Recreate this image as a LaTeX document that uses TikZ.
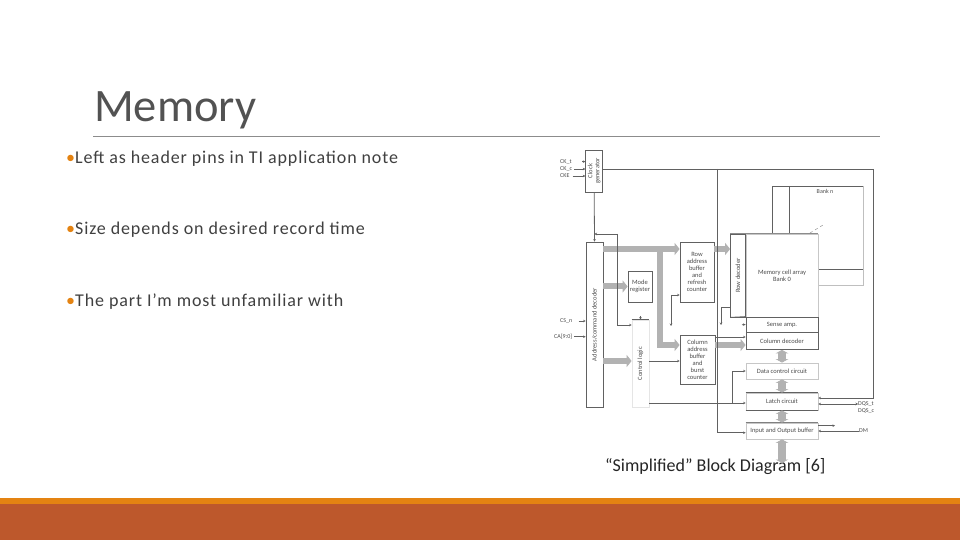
\documentclass[tikz,border=0pt]{standalone}
\usepackage{fontspec}
\setmainfont{Carlito}
\newfontfamily\bodyfont[LetterSpace=4.9]{Carlito}
\newfontfamily\titlefont{Carlito}
\usetikzlibrary{arrows.meta}
\definecolor{slidetext}{HTML}{404040}
\definecolor{slideorange}{HTML}{E48312}
\definecolor{sliderust}{HTML}{BD582C}
\tikzset{
	box/.style={draw=black!62, line width=0.8bp, inner sep=0pt, align=center, font=\fontsize{6.5bp}{7bp}\selectfont, text=black!70},
	lightbox/.style={box, draw=black!22},
	wire/.style={draw=black!62, line width=0.8bp},
	arrow/.style={wire, -{Stealth[length=2.5bp,width=2.5bp]}},
	bus/.style={draw=black!30, line width=6bp, -{Triangle[length=5bp,width=12bp]}},
	busboth/.style={draw=black!30, line width=7.5bp, {Triangle[length=3.5bp,width=12.5bp]}-{Triangle[length=3.5bp,width=12.5bp]}},
	pin/.style={inner sep=0pt, font=\fontsize{6bp}{6bp}\selectfont, text=black!70},
	bullet/.style={anchor=base west, inner sep=0pt, font=\bodyfont\fontsize{18bp}{20bp}\selectfont, text=slidetext},
}
\newcommand{\dotmark}{\textcolor{slideorange}{•}\hspace{0bp}}

\begin{document}
\begin{tikzpicture}[x=1bp, y=-1bp]
			%%%%% SLIDE %%%%%
			\useasboundingbox (0, 0) rectangle (960, 540);
			\fill[white] (0, 0) rectangle (960, 540);
			\fill[slideorange] (0, 498) rectangle (960, 504);
			\fill[sliderust] (0, 504) rectangle (960, 540);
			
			\node[anchor=base west, inner sep=0pt, font=\titlefont\fontsize{46.5bp}{46.5bp}\selectfont, text=black!68] (title) at (94, 122) {Memory};
			\draw[black!45, line width=0.7bp] (93, 136) -- (880, 136);
			
			\node[bullet] (first) at (66, 163.3) {\dotmark Left as header pins in TI application note};
			\node[bullet] (second) at (66, 234.8) {\dotmark Size depends on desired record time};
			\node[bullet] (third) at (66, 306.8) {\dotmark The part I’m most unfamiliar with};
			\node[anchor=west, inner sep=0pt, font=\fontsize{18bp}{20bp}\selectfont, text=black!85] (caption) at (605, 466.5) {“Simplified” Block Diagram [6]};
			
			%%%%% BLOCKS %%%%%
			\draw[wire] (772, 234) -- (772, 186) -- (863, 186);
			\draw[black!25, line width=0.8bp] (863, 186) -- (863, 285) -- (818, 285);
			\draw[wire] (789, 186) -- (789, 234);
			\draw[wire] (818, 269) -- (863, 269);
			\node[pin] (bankn) at (825, 191) {Bank n};
			\draw[black!40, dashed, line width=0.5bp] (810, 233) -- (823, 225);
			
			\node[box, minimum width=17bp, minimum height=42bp] (clockgen) at (594.2, 171) {\rotatebox{90}{\shortstack{Clock\\generator}}};
			\node[box, minimum width=17bp, minimum height=165bp] (decoder) at (594.5, 324.5) {\rotatebox{90}{Address/command decoder}};
			\node[box, minimum width=24bp, minimum height=31bp] (modereg) at (640, 286.5) {Mode\\register};
			\node[box, minimum width=34bp, minimum height=60bp] (rowbuf) at (697, 272) {Row\\address\\buffer\\and\\refresh\\counter};
			\node[box, minimum width=35bp, minimum height=49bp] (colbuf) at (697.5, 359.5) {Column\\address\\buffer\\and\\burst\\counter};
			\node[box, draw=black!10, minimum width=17bp, minimum height=87bp] (control) at (640.5, 363.5) {\rotatebox{90}{Control logic}};
			\draw[wire] (control.north west) -- (control.north east);
			\node[box, minimum width=15bp, minimum height=83bp] (rowdec) at (738, 275.5) {\rotatebox{90}{Row decoder}};
			\node[lightbox, minimum width=72bp, minimum height=83bp] (cellarray) at (782, 275.5) {Memory cell array\\Bank 0};
			\draw[black!45, line width=1.2bp] (rowdec.north west) -- (cellarray.north east);
			\node[box, minimum width=72bp, minimum height=15bp] (sense) at (782, 324.5) {Sense amp.};
			\node[box, minimum width=72bp, minimum height=17bp] (coldec) at (782, 341) {Column decoder};
			\node[lightbox, minimum width=72bp, minimum height=16bp] (datactl) at (782, 371) {Data control circuit};
			\node[lightbox, minimum width=72bp, minimum height=17bp] (latch) at (782, 401.5) {Latch circuit};
			\draw[wire] (latch.north west) -- (latch.north east);
			\draw[wire] (latch.south west) -- (latch.south east);
			\node[lightbox, minimum width=72bp, minimum height=16bp] (iobuf) at (782, 431) {Input and Output buffer};
			\draw[black!50, line width=0.8bp] (iobuf.north west) -- (iobuf.north east);
			
			%%%%% BUSES %%%%%
			\coordinate (busin) at (decoder.east |- 0, 249);
			\draw[bus] (busin) -- (rowbuf.west |- busin);
			\draw[bus] (660, 249) -- (660, 345) -- (colbuf.west |- 0, 345);
			\draw[bus] (decoder.east |- modereg) -- (modereg.west);
			\draw[bus] (decoder.east |- 0, 361) -- (control.west |- 0, 361);
			\draw[bus] (rowbuf.east |- busin) -- (rowdec.west |- busin);
			\draw[bus] (colbuf.east |- 0, 345) -- (coldec.west |- 0, 345);
			\draw[busboth] (coldec.south) -- (datactl.north);
			\draw[busboth] (datactl.south) -- (latch.north);
			\draw[busboth] (latch.south) -- (iobuf.north);
			\coordinate (dataout) at (782, 463);
			\draw[busboth] (iobuf.south) -- (dataout);
			
			%%%%% WIRES %%%%%
			\coordinate (outercorner) at (873, 169);
			\draw[wire] (clockgen.east |- outercorner) -- (outercorner);
			\draw[arrow] (outercorner) -- (873, 398) -- (latch.east |- 0, 398);
			\draw[arrow] (717, 169) -- (717, 432.7) -- (iobuf.west |- 0, 432.7);
			\draw[arrow] (clockgen.south) -- (decoder.north);
			\draw[arrow] (617, 234) -- (decoder.north |- 0, 234);
			\draw[arrow] (617, 234) -- (617, 325) -- (control.west |- 0, 325);
			\draw[arrow] (640.5, 316) -- (control.north);
			\draw[arrow] (671, 295) -- (rowbuf.west |- 0, 295);
			\draw[arrow] (671, 295) -- (671, 326);
			\draw[arrow] (control.east |- 0, 361) -- (colbuf.west |- 0, 361);
			\draw[arrow] (control.east |- 0, 403) -- (latch.west |- 0, 403);
			\draw[arrow] (732, 403) -- (732, 371) -- (datactl.west);
			\draw[arrow] (colbuf.east |- 0, 337) -- (coldec.west |- 0, 337);
			\draw[wire] (rowdec.south west) -- (sense.north west);
			\draw[arrow] (730.5, 307) -- (721, 307) -- (721, 325);
			\draw[arrow] (742, 324.7) -- (sense.west);
			
			%%%%% PINS %%%%%
			\node[pin, anchor=west] (ckt) at (560, 161.6) {CK\_t};
			\node[pin, anchor=west] (ckc) at (560, 169) {CK\_c};
			\node[pin, anchor=west] (cke) at (560, 176) {CKE};
			\node[pin, anchor=west] (csn) at (560, 321) {CS\_n};
			\node[pin, anchor=west] (caddr) at (554, 336.7) {CA[9:0]};
			\node[pin, anchor=west] (dqst) at (858, 404) {DQS\_t};
			\node[pin, anchor=west] (dqsc) at (858, 411) {DQS\_c};
			\node[pin, anchor=west] (dm) at (859, 431) {DM};
			
			\coordinate (cktin) at (582, 161.6);
			\draw[arrow] (cktin) -- (clockgen.west |- cktin);
			\draw[arrow] (ckc.east) ++(2, 0) -- (clockgen.west |- ckc);
			\draw[arrow] (cke.east) ++(3, 0) -- (clockgen.west |- cke);
			\draw[arrow] (csn.east) ++(6, 0) -- (decoder.west |- csn);
			\draw[arrow] (caddr.east) ++(2, 0) -- (decoder.west |- caddr);
			\draw[wire, {Stealth[length=2.5bp,width=2.5bp]}-{Stealth[length=2.5bp,width=2.5bp]}] (latch.east |- dqst) -- (dqst.west);
			\draw[arrow] (dm.west) -- (iobuf.east |- dm);
			\coordinate (bufout) at (835, 425.7);
			\draw[arrow] (iobuf.east |- bufout) -- (bufout);
			%%%%% END %%%%%
		\end{tikzpicture}
\end{document}
